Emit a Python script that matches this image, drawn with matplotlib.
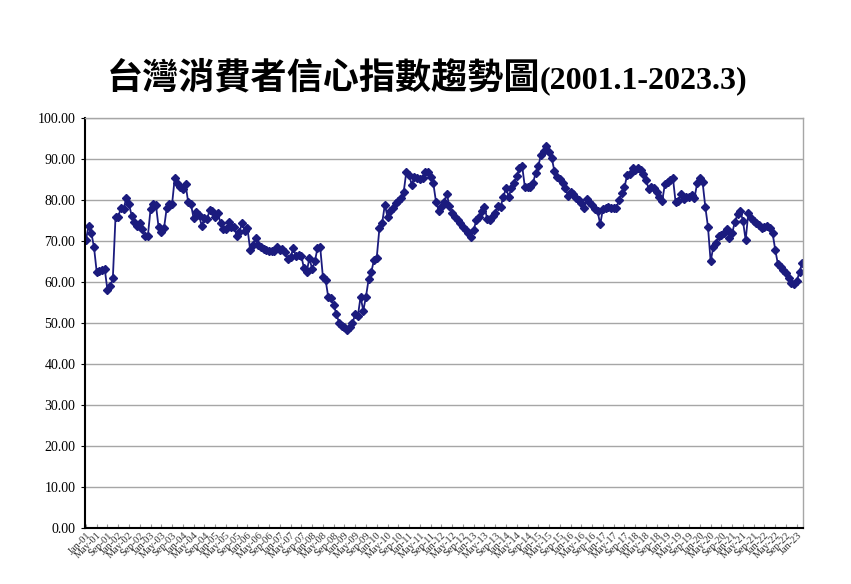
import matplotlib
matplotlib.use("Agg")
import matplotlib.pyplot as plt
import pandas as pd

# monthly consumer confidence index, Jan 2001 - Mar 2023
cci = [
    70.2, 73.7, 72.0, 68.5, 62.5, 62.6, 62.8, 63.1, 58.0, 58.9, 60.9, 75.9,  # 2001
    75.9, 78.1, 77.7, 80.6, 78.9, 76.2, 74.7, 73.7, 74.3, 72.8, 71.2, 71.2,  # 2002
    77.7, 79.0, 78.8, 73.3, 72.3, 73.1, 78.0, 79.0, 79.0, 85.4, 84.1, 83.2,  # 2003
    82.7, 83.8, 79.4, 79.0, 75.5, 77.0, 76.3, 73.7, 75.5, 75.4, 77.6, 77.2,  # 2004
    75.9, 76.9, 74.3, 72.8, 72.8, 74.7, 73.3, 73.5, 71.2, 72.3, 74.3, 72.4,  # 2005
    73.1, 67.8, 69.0, 70.8, 69.0, 68.5, 68.0, 67.8, 67.6, 67.6, 67.6, 68.6,  # 2006
    67.8, 68.0, 67.4, 65.5, 66.0, 68.2, 66.3, 66.5, 66.3, 63.3, 62.5, 65.8,  # 2007
    63.2, 65.0, 68.2, 68.5, 61.3, 60.5, 56.3, 56.0, 54.4, 52.2, 50.1, 49.3,  # 2008
    48.9, 48.3, 49.1, 49.9, 52.2, 51.7, 56.4, 53.0, 56.4, 60.7, 62.5, 65.4,  # 2009
    65.9, 73.1, 74.3, 78.8, 75.9, 77.4, 78.1, 79.2, 79.8, 80.5, 81.9, 86.9,  # 2010
    86.1, 83.7, 85.7, 85.3, 85.0, 85.3, 86.9, 86.9, 85.5, 84.1, 79.6, 77.4,  # 2011
    78.4, 79.6, 81.4, 78.6, 76.8, 75.8, 75.2, 74.5, 73.3, 72.7, 71.9, 70.9,  # 2012
    72.7, 75.1, 75.8, 77.2, 78.4, 75.4, 75.1, 76.1, 76.9, 78.5, 78.4, 80.7,  # 2013
    82.9, 80.8, 82.9, 84.1, 85.9, 87.7, 88.3, 83.2, 83.1, 83.2, 84.1, 86.5,  # 2014
    88.3, 91.0, 92.0, 93.2, 91.8, 90.2, 87.0, 85.7, 85.0, 84.2, 83.0, 81.0,  # 2015
    82.0, 81.4, 80.6, 80.0, 79.3, 78.1, 80.2, 79.4, 78.8, 77.8, 77.2, 74.1,  # 2016
    77.8, 78.1, 78.3, 78.1, 78.0, 78.1, 80.0, 81.6, 83.1, 86.1, 86.3, 87.7,  # 2017
    87.3, 87.9, 87.3, 86.3, 84.8, 82.7, 83.2, 82.8, 81.9, 80.8, 79.7, 83.8,  # 2018
    84.3, 84.9, 85.3, 79.4, 79.8, 81.4, 80.2, 80.7, 80.8, 81.1, 80.5, 84.1,  # 2019
    85.3, 84.4, 78.4, 73.5, 65.0, 68.6, 69.4, 71.1, 71.4, 71.9, 72.9, 70.8,  # 2020
    71.9, 74.7, 76.5, 77.4, 74.9, 70.2, 76.9, 75.5, 74.9, 74.3, 73.9, 73.1,  # 2021
    73.5, 73.7, 73.1, 71.9, 67.8, 64.3, 63.6, 63.0, 62.1, 61.0, 59.7, 59.4,  # 2022
    60.2, 62.5, 64.6,                                                        # 2023
]
months = pd.date_range("2001-01-01", periods=len(cci), freq="MS")
month_labels = [m.strftime("%b-%y") for m in months]
y_ticks = list(range(0, 101, 10))

serif = ["Liberation Serif", "DejaVu Serif"]
navy = "#1b1b7e"

fig = plt.figure(figsize=(8.51, 5.84), dpi=100)
ax = fig.add_axes([0.1, 0.096, 0.8436, 0.702])

x = list(range(len(cci)))
ax.plot(x, cci, color=navy, linewidth=1.3, marker="D", markersize=4,
        markerfacecolor=navy, markeredgecolor=navy)

ax.set_ylim(0, 100)
ax.set_xlim(-0.3, len(cci) - 0.7)
ax.set_yticks(y_ticks)
ax.set_yticklabels([f"{v:.2f}" for v in y_ticks], family=serif, fontsize=10)
ax.yaxis.grid(True, color="#a6a6a6", linewidth=1.0)
ax.set_axisbelow(True)

# a tick label every four months, as in the source
tick_pos = x[::4]
ax.set_xticks(tick_pos)
ax.set_xticklabels([month_labels[i] for i in tick_pos], rotation=45, ha="right",
                   rotation_mode="anchor", family=serif, fontsize=7.5, color="#333333")
ax.tick_params(axis="x", direction="in", length=3, color="#999999", pad=2)
ax.tick_params(axis="y", direction="out", length=3, pad=4)

for side in ["left", "bottom"]:
    ax.spines[side].set_color("black")
    ax.spines[side].set_linewidth(1.5)
for side in ["top", "right"]:
    ax.spines[side].set_color("#a6a6a6")
    ax.spines[side].set_linewidth(1.0)

# title: CJK part and the latin date range
title_y = 1 - 88 / 584
split_x = 540 / 851
fig.text(split_x, title_y, "台灣消費者信心指數趨勢圖", ha="right", va="baseline",
         family=["Noto Sans CJK TC", "DejaVu Sans"], fontweight="bold", fontsize=26)
fig.text(split_x, title_y, "(2001.1-2023.3)", ha="left", va="baseline",
         family=serif, fontweight="bold", fontsize=23)

fig.savefig("out.png", dpi=100)
